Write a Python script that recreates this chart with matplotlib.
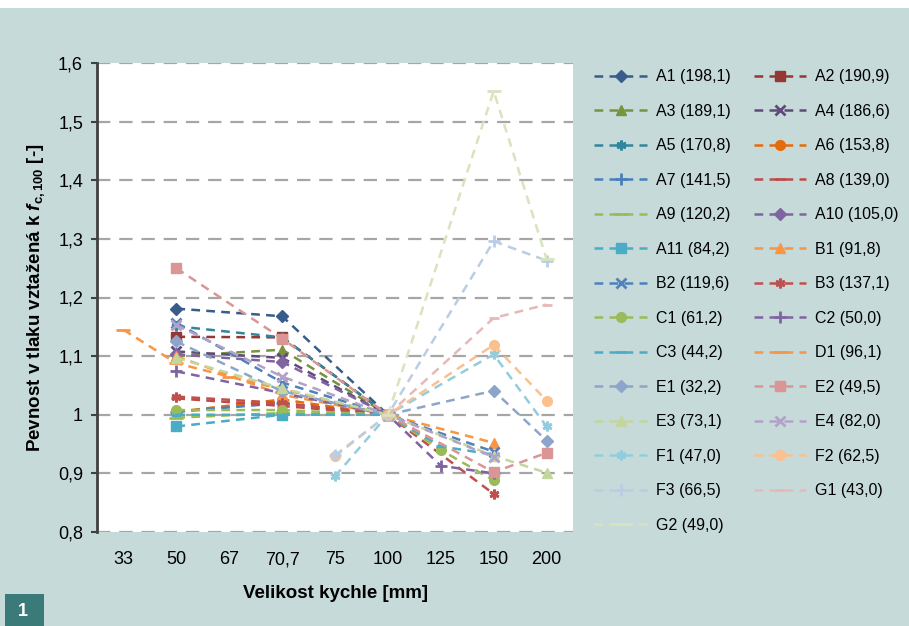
import numpy as np
import matplotlib
matplotlib.use("Agg")
import matplotlib.pyplot as plt
from matplotlib.patches import Rectangle

plt.rcParams['font.family'] = ['Liberation Sans', 'DejaVu Sans']
plt.rcParams['mathtext.fontset'] = 'custom'
plt.rcParams['mathtext.rm'] = 'Liberation Sans'
plt.rcParams['mathtext.it'] = 'Liberation Sans:italic'
plt.rcParams['mathtext.bf'] = 'Liberation Sans:bold'
plt.rcParams['mathtext.bfit'] = 'Liberation Sans:italic:bold'

nan = np.nan

categories = ['33', '50', '67', '70,7', '75', '100', '125', '150', '200']
ytick_values = [0.8, 0.9, 1.0, 1.1, 1.2, 1.3, 1.4, 1.5, 1.6]
ytick_labels = ['0,8', '0,9', '1', '1,1', '1,2', '1,3', '1,4', '1,5', '1,6']

names = ['A1 (198,1)', 'A2 (190,9)', 'A3 (189,1)', 'A4 (186,6)', 'A5 (170,8)',
         'A6 (153,8)', 'A7 (141,5)', 'A8 (139,0)', 'A9 (120,2)', 'A10 (105,0)',
         'A11 (84,2)', 'B1 (91,8)', 'B2 (119,6)', 'B3 (137,1)', 'C1 (61,2)',
         'C2 (50,0)', 'C3 (44,2)', 'D1 (96,1)', 'E1 (32,2)', 'E2 (49,5)',
         'E3 (73,1)', 'E4 (82,0)', 'F1 (47,0)', 'F2 (62,5)', 'F3 (66,5)',
         'G1 (43,0)', 'G2 (49,0)']

#         33    50     67     70,7   75     100  125    150    200
A1  = [nan, 1.181, nan, 1.168, nan, 1.0, nan, nan, nan]
A2  = [nan, 1.133, nan, 1.132, nan, 1.0, nan, nan, nan]
A3  = [nan, 1.100, nan, 1.111, nan, 1.0, nan, nan, nan]
A4  = [nan, 1.108, nan, 1.097, nan, 1.0, nan, nan, nan]
A5  = [nan, 1.151, nan, 1.132, nan, 1.0, nan, nan, nan]
A6  = [nan, 1.005, nan, 1.026, nan, 1.0, nan, nan, nan]
A7  = [nan, 1.005, nan, 1.020, nan, 1.0, nan, nan, nan]
A8  = [nan, 1.028, nan, 1.015, nan, 1.0, nan, nan, nan]
A9  = [nan, 0.995, nan, 1.003, nan, 1.0, nan, nan, nan]
A10 = [nan, 1.103, nan, 1.090, nan, 1.0, nan, nan, nan]
A11 = [nan, 0.980, nan, 1.000, nan, 1.0, nan, nan, nan]
B1  = [nan, 1.100, nan, 1.034, nan, 1.0, nan, 0.952, nan]
B2  = [nan, 1.157, nan, 1.055, nan, 1.0, nan, 0.937, nan]
B3  = [nan, 1.031, nan, 1.020, nan, 1.0, nan, 0.865, nan]
C1  = [nan, 1.008, nan, 1.008, nan, 1.0, 0.940, 0.888, nan]
C2  = [nan, 1.074, nan, nan, nan, 1.0, 0.913, 0.900, nan]
C3  = [nan, 1.000, nan, 1.000, nan, 1.0, 0.946, 0.932, nan]
D1  = [1.145, 1.088, 1.065, nan, nan, 1.0, nan, nan, nan]
E1  = [nan, 1.125, nan, 1.040, nan, 1.0, nan, 1.041, 0.956]
E2  = [nan, 1.250, nan, 1.130, nan, 1.0, nan, 0.902, 0.935]
E3  = [nan, 1.097, nan, 1.045, nan, 1.0, nan, 0.930, 0.901]
E4  = [nan, 1.153, nan, 1.065, nan, 1.0, nan, 0.928, nan]
F1  = [nan, nan, nan, nan, 0.895, 1.0, nan, 1.103, 0.980]
F2  = [nan, nan, nan, nan, 0.929, 1.0, nan, 1.119, 1.024]
F3  = [nan, nan, nan, nan, 0.931, 1.0, nan, 1.296, 1.263]
G1  = [nan, nan, nan, nan, nan, 1.0, nan, 1.165, 1.188]
G2  = [nan, nan, nan, nan, nan, 1.0, nan, 1.552, 1.266]

series = [A1, A2, A3, A4, A5, A6, A7, A8, A9, A10, A11, B1, B2, B3, C1, C2, C3,
          D1, E1, E2, E3, E4, F1, F2, F3, G1, G2]

colors = ['#385d8a', '#953735', '#77933c', '#604a7b', '#31859c', '#e46c0a',
          '#4a7ebb', '#be4b48', '#9bbb59', '#8064a2', '#4bacc6', '#f79646',
          '#4f81bd', '#c0504d', '#9bbb59', '#8064a2', '#4bacc6', '#f79646',
          '#8ea5cb', '#d99694', '#c3d69b', '#b3a2c7', '#93cddd', '#fac090',
          '#b9cde5', '#e6b9b8', '#d7e4bd']

ast = (6, 2, 0)
markers = ['D', 's', '^', 'x', ast, 'o', '+', '_', '_', 'D', 's', '^', 'x', ast,
           'o', '+', '_', '_', 'D', 's', '^', 'x', ast, 'o', '+', '_', '_']
msizes = [6, 7, 7, 7, 7, 7, 8, 7, 10, 6, 7, 7, 7, 7, 7, 8, 7, 10, 6, 7, 7, 7, 7, 7, 8, 7, 10]

bg = '#c6dad9'
fig = plt.figure(figsize=(9.09, 6.26), dpi=100, facecolor=bg)
ax = fig.add_axes([97 / 909, 1 - 532 / 626, 476 / 909, 469 / 626])
ax.set_facecolor('white')

x = np.arange(len(categories))
lines = []
for vals, name, c, m, ms in zip(series, names, colors, markers, msizes):
    v = np.array(vals, dtype=float)
    ok = ~np.isnan(v)
    mew = 2.0 if m in ('x', '+', '_') or m == ast else 1.0
    ln, = ax.plot(x[ok], v[ok], color=c, linestyle=(0, (3.5, 2.5)), linewidth=1.8,
                  marker=m, markersize=ms, markeredgewidth=mew,
                  markerfacecolor=c, markeredgecolor=c, label=name)
    lines.append(ln)

ax.set_xlim(-0.5, len(categories) - 0.5)
ax.set_ylim(0.8, 1.6)
ax.set_xticks(x)
ax.set_xticklabels(categories, fontsize=13)
ax.set_yticks(ytick_values)
ax.set_yticklabels(ytick_labels, fontsize=13)
ax.tick_params(axis='x', length=0, pad=14)
ax.tick_params(axis='y', length=4, width=1.5, color='#404040', pad=6)

for yv in ytick_values:
    ax.axhline(yv, color='#a6a6a6', linewidth=1.6, linestyle=(0, (6, 4)), zorder=0)

for s in ['top', 'right', 'bottom']:
    ax.spines[s].set_visible(False)
ax.spines['left'].set_color('#404040')
ax.spines['left'].set_linewidth(2)

ax.set_xlabel('Velikost kychle [mm]', fontsize=13.5, fontweight='bold', labelpad=12)
ax.set_ylabel(r'Pevnost v tlaku vztažená k $\mathbfit{f}_{\mathbf{c,100}}$ [-]',
              fontsize=13.5, fontweight='bold', labelpad=8)

order = list(range(0, len(lines), 2)) + list(range(1, len(lines), 2))
leg = fig.legend([lines[i] for i in order], [names[i] for i in order],
                 ncol=2, loc='upper left', bbox_to_anchor=(0.638, 0.912),
                 frameon=False, fontsize=11.5, handlelength=3.3,
                 handletextpad=0.55, labelspacing=1.22, columnspacing=1.45)

fig.patches.append(Rectangle((0, 1 - 8 / 626), 1, 8 / 626, transform=fig.transFigure,
                             facecolor='white', edgecolor='none'))
fig.patches.append(Rectangle((5 / 909, 0), 39 / 909, 32 / 626, transform=fig.transFigure,
                             facecolor='#3a7a78', edgecolor='none'))
fig.text(18 / 909, 10 / 626, '1', color='white', fontsize=13, fontweight='bold')

fig.savefig('out.png', dpi=100, facecolor=bg)
